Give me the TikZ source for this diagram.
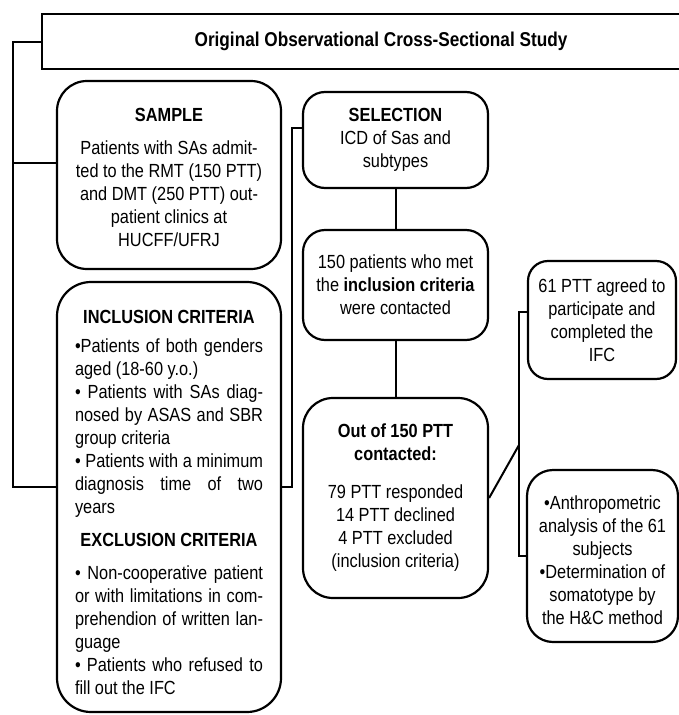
\documentclass[tikz,border=0pt]{standalone}
\usepackage{fontspec}
\setmainfont{Liberation Sans}[FakeStretch=0.86]
\usetikzlibrary{calc}
\newcommand{\jl}[1]{\makebox[188pt][s]{#1}}
\newcommand{\cl}[1]{\makebox[188pt][c]{#1}}
\begin{document}
\begin{tikzpicture}[x=1pt,y=-1pt,
  every node/.style={font=\fontsize{19}{23}\selectfont},
  box/.style={draw, line width=2.2pt, rounded corners=#1, align=center, inner sep=0pt},
  box/.default=20pt,
  conn/.style={draw, line width=2pt}]
\useasboundingbox (0,0) rectangle (679,715);
\begin{scope}
\clip (0,0) rectangle (679,715);
\node[draw, line width=2.6pt, minimum width=678pt, minimum height=55pt, inner sep=0pt,
  font=\fontsize{20}{23}\selectfont\bfseries] (title) at (381,41.5)
  {Original Observational Cross-Sectional Study};

\node[box=30pt, minimum width=224pt, minimum height=188pt] (sample) at (169,175)
  {\rule{0pt}{18pt}\textbf{SAMPLE}\\[10pt]
   Patients with SAs admit-\\ ted to the RMT (150 PTT)\\ and DMT (250 PTT) out-\\ patient clinics at\\ HUCFF/UFRJ};

\node[box=34pt, minimum width=224pt, minimum height=430pt, align=left] (incl) at (169,497)
  {\cl{\rule{0pt}{24pt}\textbf{INCLUSION CRITERIA}}\\[6pt]
   \jl{•Patients of both genders}\\
   aged (18-60 y.o.)\\
   \jl{• Patients with SAs diag-}\\
   \jl{nosed by ASAS and SBR}\\
   group criteria\\
   \jl{• Patients with a minimum}\\
   \jl{diagnosis time of two}\\
   years\\[10pt]
   \cl{\textbf{EXCLUSION CRITERIA}}\\[10pt]
   \jl{• Non-cooperative patient}\\
   \jl{or with limitations in com-}\\
   \jl{prehendion of written lan-}\\
   guage\\
   \jl{• Patients who refused to}\\
   fill out the IFC};

\node[box=22pt, minimum width=185pt, minimum height=96pt] (sel) at (395.5,140)
  {\textbf{SELECTION}\\ ICD of Sas and\\ subtypes};

\node[box=22pt, minimum width=185pt, minimum height=110pt] (b2) at (395.5,285)
  {150 patients who met\\ the \textbf{inclusion criteria}\\ were contacted};

\node[box=30pt, minimum width=185pt, minimum height=200pt] (b3) at (395.5,498)
  {\textbf{Out of 150 PTT}\\ \textbf{contacted:}\\[15pt]
   79 PTT responded\\ 14 PTT declined\\ 4 PTT excluded\\ (inclusion criteria)};

\node[box=20pt, minimum width=148pt, minimum height=118pt] (b4) at (602,320)
  {61 PTT agreed to\\ participate and\\ completed the\\ IFC};

\node[box=26pt, minimum width=151pt, minimum height=172pt] (b5) at (602.5,556)
  {\rule{0pt}{22pt}•Anthropometric\\ analysis of the 61\\ subjects\\ •Determination of\\ somatotype by\\ the H\&C method};

% left bracket
\coordinate (L) at (13,43);
\coordinate (s1) at ([yshift=12pt]sample.west);
\coordinate (i1) at ([yshift=10pt]incl.west);
\draw[conn] (title.west) -| (i1 -| L) -- (i1);
\draw[conn] (s1 -| L) -- (s1);

% middle bracket
\coordinate (M) at (292,300);
\coordinate (i2) at ([yshift=10pt]incl.east);
\coordinate (s2) at ([yshift=12pt]sel.west);
\draw[conn] (i2) -| (s2 -| M) -- (s2);

% vertical links
\draw[conn] (sel.south) -- (b2.north);
\draw[conn] (b2.south) -- (b3.north);

% right bracket
\coordinate (R) at (519,445);
\coordinate (r4) at ([yshift=8pt]b4.west);
\draw[conn] (b3.east) -- (R);
\draw[conn] (r4) -- (r4 -| R) -- (b5.west -| R) -- (b5.west);
\end{scope}
\end{tikzpicture}
\end{document}
